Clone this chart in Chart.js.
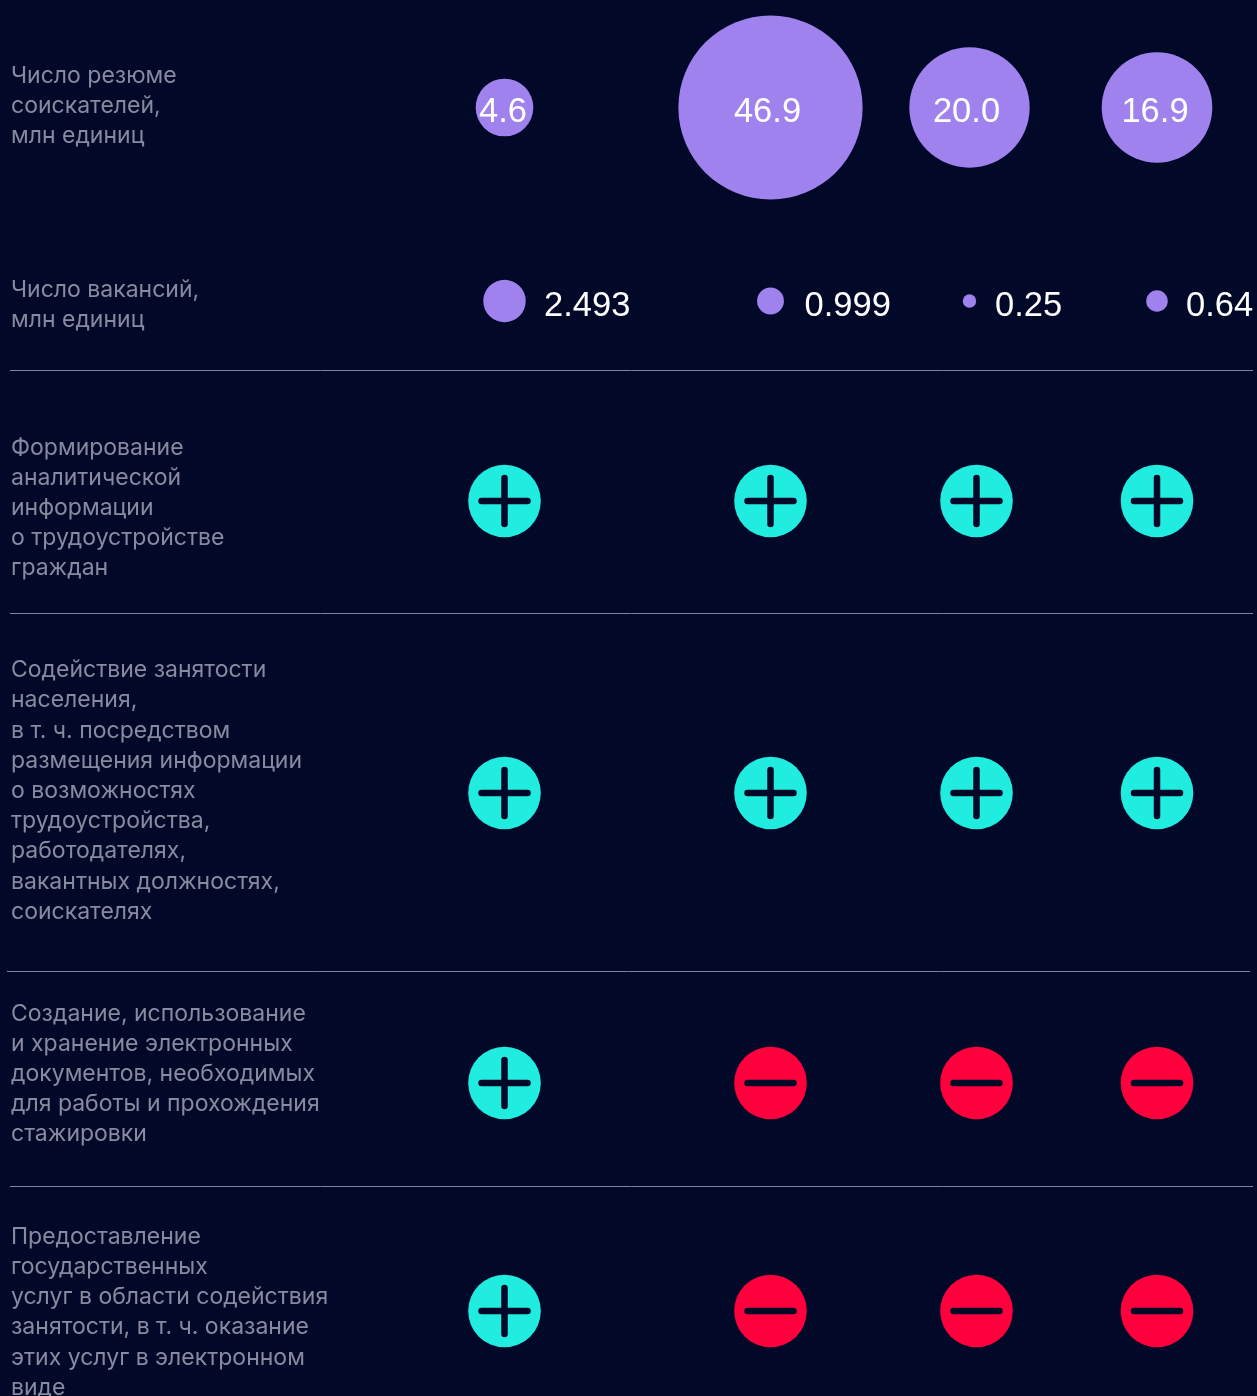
<!DOCTYPE html>
<html><head><meta charset="utf-8">
<style>html,body{margin:0;padding:0;background:#020828;overflow:hidden}canvas{display:block}</style>
<script src="https://cdn.jsdelivr.net/npm/chart.js@4"></script>
</head><body><canvas id="c" width="1257" height="1396"></canvas>
<script>
const resumes=[4.6,46.9,20.0,16.9];
const resumeLabels=['4.6','46.9','20.0','16.9'];
const vacancies=[2.493,0.999,0.25,0.64];
const vacancyLabels=['2.493','0.999','0.25','0.64'];
const rowLabels=[
 ['Число резюме','соискателей,','млн единиц'],
 ['Число вакансий,','млн единиц'],
 ['Формирование','аналитической','информации','о трудоустройстве','граждан'],
 ['Содействие занятости','населения,','в т. ч. посредством','размещения информации','о возможностях','трудоустройства,','работодателях,','вакантных должностях,','соискателях'],
 ['Создание, использование','и хранение электронных','документов, необходимых','для работы и прохождения','стажировки'],
 ['Предоставление','государственных','услуг в области содействия','занятости, в т. ч. оказание','этих услуг в электронном','виде']
];
const functionRows=[
 [1,1,1,1],
 [1,1,1,1],
 [1,0,0,0],
 [1,0,0,0]
];
// layout of the table
const bubbleX=[504.5,770.5,969.5,1157];
const markX=[504.5,770.5,976.5,1157];
const resumeY=107.5, vacancyY=301;
const markY=[501,793,1083,1311];
const labelY=[106,305,508,791,1074,1312.4];
const separators=[[10,1253,370.5],[10,1253,613.5],[7,1250,971.5],[10,1253,1186.5]];
const K=13.45;
const BG='#020828',PURPLE='#9f82ee',TEAL='#20ecdf',RED='#ff003c',GREY='#888aa0',RULE='#80839b';
const area=v=>K*Math.sqrt(v);

const datasets=[];
separators.forEach(s=>datasets.push({type:'line',data:[{x:s[0],y:s[2]},{x:s[1],y:s[2]}],borderColor:RULE,borderWidth:1,pointRadius:0,fill:false}));
datasets.push({type:'bubble',data:resumes.map((v,i)=>({x:bubbleX[i],y:resumeY,r:area(v)})),backgroundColor:PURPLE,borderWidth:0});
datasets.push({type:'bubble',data:vacancies.map((v,i)=>({x:bubbleX[i],y:vacancyY,r:area(v)})),backgroundColor:PURPLE,borderWidth:0});
const pts=()=>functionRows.flatMap((row,r)=>row.map((on,c)=>({x:markX[c],y:markY[r],on})));
datasets.push({type:'scatter',order:2,data:pts(),pointRadius:36.3,pointHoverRadius:36.3,pointBorderWidth:0,
  pointBackgroundColor:c=>c.raw.on?TEAL:RED});
datasets.push({type:'scatter',order:1,glyph:true,data:pts(),pointRadius:23,pointHoverRadius:23,pointStyle:c=>c.raw.on?'cross':'line',
  pointBackgroundColor:BG,pointBorderColor:BG,pointBorderWidth:6.5});

const plugin={id:'tbl',
 beforeDatasetDraw(ch,a){ch.ctx.lineCap=a.meta._dataset&&a.meta._dataset.glyph?'round':'butt';},
 afterDatasetsDraw(ch){
  const ctx=ch.ctx;ctx.save();ctx.fillStyle='#ffffff';ctx.font='400 34.5px "Liberation Sans"';ctx.textBaseline='middle';
  const n=separators.length;
  ctx.textAlign='center';
  const shift=[-1.5,-3,-3,-2];
  ch.getDatasetMeta(n).data.forEach((p,i)=>ctx.fillText(resumeLabels[i],p.x+shift[i],p.y+4.5));
  ctx.textAlign='left';
  const gap=[39.5,34,25.5,29];
  ch.getDatasetMeta(n+1).data.forEach((p,i)=>ctx.fillText(vacancyLabels[i],p.x+gap[i],p.y+5));
  ctx.restore();
 }};

new Chart(document.getElementById('c'),{
 type:'scatter',data:{datasets},plugins:[plugin],
 options:{responsive:false,animation:false,events:[],layout:{padding:0,autoPadding:false},
  plugins:{legend:{display:false},tooltip:{enabled:false}},
  scales:{
   x:{type:'linear',display:false,min:0,max:1257},
   y:{type:'linear',reverse:true,min:0,max:1396,position:'left',
    border:{display:false},grid:{display:false,drawTicks:false},
    afterBuildTicks:s=>{s.ticks=labelY.map(value=>({value}));},
    afterFit:s=>{s.paddingTop=0;s.paddingBottom=0;s.width=0;},
    ticks:{mirror:true,padding:11,autoSkip:false,color:GREY,maxRotation:0,
     font:{family:'Inter',size:23,lineHeight:30.2/23},
     callback:(v,i)=>rowLabels[i]}
   }
  }
 }
});
</script></body></html>
